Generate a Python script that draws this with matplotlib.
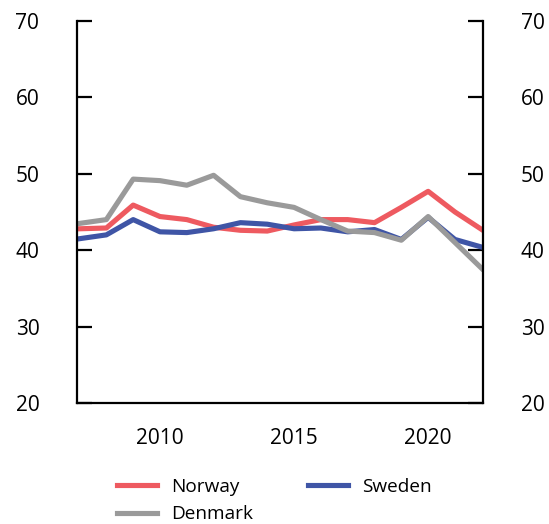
import matplotlib as mpl
import matplotlib.pyplot as plt
import numpy as np

# ---------------------------------------------------------------- data -----
years = np.arange(2007, 2023)
norway = [42.8, 42.9, 45.9, 44.4, 44.0, 43.0, 42.6, 42.5, 43.3, 44.0,
          44.0, 43.6, 45.6, 47.7, 45.0, 42.7]
sweden = [41.5, 42.0, 44.0, 42.4, 42.3, 42.8, 43.6, 43.4, 42.8, 42.9,
          42.4, 42.7, 41.4, 44.3, 41.4, 40.4]
denmark = [43.5, 44.0, 49.3, 49.1, 48.5, 49.8, 47.0, 46.2, 45.6, 44.0,
           42.5, 42.3, 41.3, 44.4, 41.0, 37.6]
y_ticks = [20, 30, 40, 50, 60, 70]
x_ticks = [2010, 2015, 2020]

# ---------------------------------------------------------------- style ----
COLOR_RED = "#EE5A60"
COLOR_BLUE = "#3F55A6"
COLOR_GRAY = "#9A9A9A"

mpl.rcParams.update({
    "font.family": ["Open Sans", "DejaVu Sans"],
    "font.size": 15,
    "axes.linewidth": 1.6,
})

fig = plt.figure(figsize=(5.49, 5.24), dpi=100)
ax = fig.add_axes([0.140, 0.231, 0.740, 0.729])

lw = 3.7
h_no, = ax.plot(years, norway, color=COLOR_RED, lw=lw, label="Norway")
h_se, = ax.plot(years, sweden, color=COLOR_BLUE, lw=lw, label="Sweden")
h_dk, = ax.plot(years, denmark, color=COLOR_GRAY, lw=lw, label="Denmark")

ax.set_xlim(2006.9, 2022.05)
ax.set_ylim(20, 70)
ax.set_yticks(y_ticks)
ax.set_xticks(x_ticks)
ax.spines["top"].set_visible(False)

ax.tick_params(axis="y", direction="in", length=10.5, width=1.6,
               left=True, right=True, labelleft=True, labelright=True,
               pad=27)
ax.tick_params(axis="x", length=0, pad=18)

# column-wise fill: Norway / Denmark in col 1, Sweden in col 2
fig.legend([h_no, h_dk, h_se], ["Norway", "Denmark", "Sweden"],
           loc="upper left", bbox_to_anchor=(0.213, 0.088), ncol=2,
           frameon=False, fontsize=13.7, handlelength=2.1,
           handletextpad=0.74, columnspacing=2.9, labelspacing=0.5,
           borderaxespad=0, borderpad=0)

fig.savefig("out.png", dpi=100)
